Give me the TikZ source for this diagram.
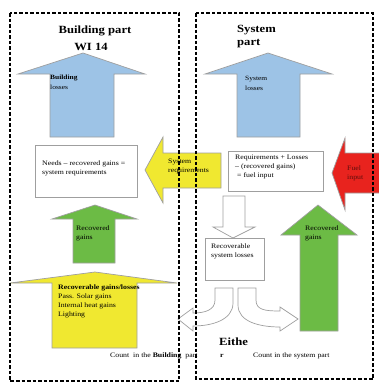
\documentclass[tikz,border=0pt]{standalone}
\usepackage{fontspec}
\setmainfont{Liberation Serif}[FakeStretch=1.15]
\usepackage{xcolor}
\definecolor{lossblue}{RGB}{157,195,230}
\definecolor{gainyellow}{RGB}{240,232,48}
\definecolor{gaingreen}{RGB}{108,187,69}
\definecolor{fuelred}{RGB}{232,35,30}
\tikzset{
  blockarrow/.style={draw=gray!75, line width=0.7pt, line join=miter},
  partframe/.style={draw=black, line width=1.1pt, dash pattern=on 3.5pt off 2pt},
  txtbox/.style={draw=gray!75, line width=0.7pt, fill=white, inner sep=0pt},
  smalltxt/.style={font=\fontsize{6.8}{9}\selectfont, align=left, inner sep=0pt},
  tinytxt/.style={font=\fontsize{6.5}{9.5}\selectfont, align=left, inner sep=0pt},
  headtxt/.style={font=\fontsize{11}{13}\selectfont\bfseries, inner sep=0pt}
}

\begin{document}
\begin{tikzpicture}[x=1pt, y=-1pt]
	\useasboundingbox (0,0) rectangle (379,383);
	% loss arrows
	\draw[blockarrow, fill=lossblue] (50,137) -- (50,74) -- (18,74) -- (83,53) -- (145,74) -- (114,74) -- (114,137) -- cycle;
	\draw[blockarrow, fill=lossblue] (237,137) -- (237,74) -- (205,74) -- (268,53) -- (332,74) -- (300,74) -- (300,137) -- cycle;
	% gain arrows
	\draw[blockarrow, fill=gaingreen] (73,263) -- (73,219) -- (52,219) -- (95,205) -- (137,219) -- (115,219) -- (115,263) -- cycle;
	\draw[blockarrow, fill=gaingreen] (300,331) -- (300,235) -- (281,235) -- (318,205) -- (357,235) -- (338,235) -- (338,331) -- cycle;
	\draw[blockarrow, fill=gainyellow] (52,348) -- (52,283) -- (10,283) -- (95,272) -- (177,283) -- (137,283) -- (137,348) -- cycle;
	% requirement and fuel arrows
	\draw[blockarrow, fill=gainyellow] (221,153) -- (163,153) -- (163,137) -- (145,170) -- (163,203) -- (163,188) -- (221,188) -- cycle;
	\draw[blockarrow, fill=fuelred] (382,153) -- (345,153) -- (345,138) -- (332,173) -- (345,210) -- (345,193) -- (382,193);
	% recoverable system losses
	\draw[blockarrow, fill=white] (223,196) -- (223,227) -- (213,227) -- (233,238) -- (255,227) -- (245,227) -- (245,196) -- cycle;
	\draw[blockarrow, fill=white] (215,288) -- (215,300) .. controls (215,310) and (205,313) .. (193,313) -- (193,308) -- (178,319) -- (193,331) -- (193,326) .. controls (212,326) and (233,320) .. (233,303) -- (233,288) -- cycle;
	\draw[blockarrow, fill=white] (256,288) -- (256,300) .. controls (256,310) and (265,311) .. (280,311) -- (280,307) -- (298,319) -- (280,331) -- (280,327) .. controls (260,327) and (238,322) .. (238,305) -- (238,288) -- cycle;
	% boxes
	\node[txtbox, minimum width=102pt, minimum height=52pt, anchor=north west] (needsbox) at (35,145) {};
	\node[smalltxt, anchor=north west] (needs) at (42,161) {Needs -- recovered gains =\\system requirements};
	\node[txtbox, minimum width=95pt, minimum height=40pt, anchor=north west] (fuelbox) at (228,151) {};
	\node[smalltxt, anchor=north west] (fuel) at (235,155) {Requirements + Losses\\-- (recovered gains)\\\ = fuel input};
	\node[txtbox, minimum width=59pt, minimum height=42pt, anchor=north west] (rslbox) at (205,238) {};
	\node[smalltxt, anchor=north west] (rsl) at (211,244) {Recoverable\\system losses};
	% frames
	\draw[partframe] (10,13) rectangle (179,381);
	\draw[partframe] (196,13) rectangle (373,379);
	% labels
	\node[headtxt] (bpart) at (95,31) {Building part};
	\node[headtxt] (wi) at (91,47) {WI 14};
	\node[headtxt, anchor=west, align=left] (spart) at (237,37) {System\\part};
	\node[tinytxt, anchor=north west] (blosses) at (50,75) {\textbf{Building}\\losses};
	\node[tinytxt, anchor=north west] (slosses) at (245,76) {System\\losses};
	\node[smalltxt, anchor=north west] (sreq) at (168,159) {System\\requirements};
	\node[smalltxt, anchor=north west, text=black!60!fuelred] (finput) at (347,166) {Fuel\\input};
	\node[smalltxt, anchor=north west] (lgains) at (76,226) {Recovered\\gains};
	\node[smalltxt, anchor=north west] (rgains) at (305,226) {Recovered\\gains};
	\node[smalltxt, anchor=north west] (rgl) at (58,285) {\textbf{Recoverable gains/losses}\\Pass. Solar gains\\Internal heat gains\\Lighting};
	\node[smalltxt, anchor=west] (cbuild) at (110,356) {Count\ \ in the \textbf{Building}\ \ part};
	\node[headtxt, anchor=west] (eithe) at (219,342) {Eithe};
	\node[smalltxt, anchor=west] (eithr) at (220,356) {\textbf{r}};
	\node[smalltxt, anchor=west] (csys) at (253,356) {Count in the system part};
\end{tikzpicture}
\end{document}
